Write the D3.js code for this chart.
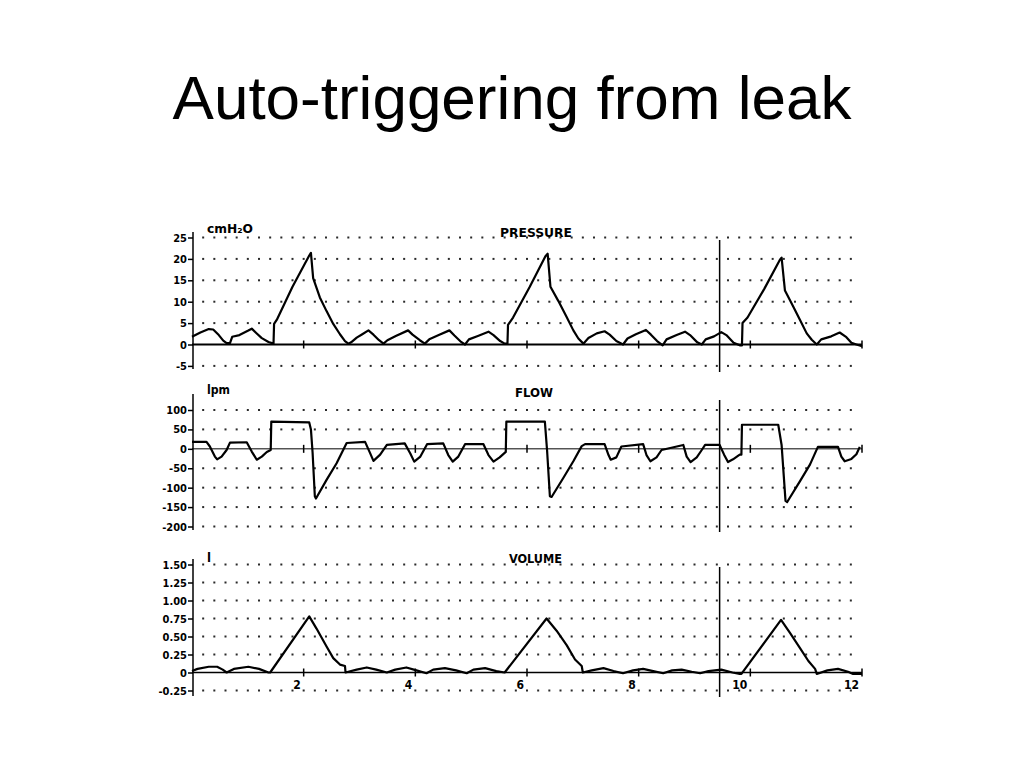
<!DOCTYPE html>
<html><head><meta charset="utf-8">
<script src="https://cdn.jsdelivr.net/npm/d3@7"></script>
<style>
html,body{margin:0;padding:0;background:#fff;}
svg{display:block;}
</style></head><body>
<svg id="chart" width="1024" height="768"></svg>
<script>
const chartTitle = "Auto-triggering from leak";
const timeTicks = [2, 4, 6, 8, 10, 12];
const timeTickLabels = ["2", "4", "6", "8", "10", "12"];
const pressureTicks = [25, 20, 15, 10, 5, 0, -5];
const pressureTickLabels = ["25", "20", "15", "10", "5", "0", "-5"];
const flowTicks = [100, 50, 0, -50, -100, -150, -200];
const flowTickLabels = ["100", "50", "0", "-50", "-100", "-150", "-200"];
const volumeTicks = [1.5, 1.25, 1, 0.75, 0.5, 0.25, 0, -0.25];
const volumeTickLabels = ["1.50", "1.25", "1.00", "0.75", "0.50", "0.25", "0", "-0.25"];
const markerTime = 9.45;

// [time s, pressure cmH2O]
const pressureData = [[0,1.8],[0.15,2.8],[0.3,3.6],[0.38,3.5],[0.48,2.2],[0.56,0.9],[0.62,0.3],[0.68,0.3],[0.72,1.8],[0.85,2.2],[1.0,3.2],[1.07,3.7],[1.15,2.7],[1.25,1.5],[1.37,0.6],[1.46,0.2],[1.47,4.8],[1.52,5.8],[1.8,13.5],[2.1,20.8],[2.13,21.4],[2.17,15.5],[2.29,11],[2.41,7.8],[2.53,4.8],[2.65,2.4],[2.74,0.8],[2.8,0.2],[2.85,0.5],[2.95,1.6],[3.05,2.4],[3.16,3.3],[3.25,2.3],[3.35,1.0],[3.43,0.2],[3.5,1.0],[3.65,2.0],[3.87,3.3],[3.95,2.3],[4.08,1.0],[4.17,0.2],[4.25,1.2],[4.42,2.2],[4.61,3.3],[4.7,2.1],[4.82,0.6],[4.89,0],[4.96,1.2],[5.12,2.0],[5.31,3.0],[5.4,2.2],[5.52,0.8],[5.6,0.2],[5.65,0.2],[5.66,4.6],[5.75,6.3],[6.05,13.5],[6.33,20.6],[6.37,21.2],[6.42,13.5],[6.56,10.2],[6.71,6.4],[6.83,3.3],[6.92,1.4],[7.01,0.2],[7.1,1.5],[7.25,2.6],[7.39,3.1],[7.48,2.3],[7.6,0.8],[7.72,0],[7.8,1.4],[7.95,2.4],[8.13,3.4],[8.22,2.3],[8.33,0.8],[8.43,-0.2],[8.5,1.2],[8.68,2.2],[8.83,3.0],[8.92,2.2],[9.05,0.5],[9.13,0],[9.2,1.2],[9.35,1.9],[9.48,2.9],[9.57,2.2],[9.7,0.4],[9.81,-0.2],[9.85,-0.2],[9.86,5.0],[9.95,6.3],[10.25,13],[10.53,19.8],[10.56,20.3],[10.62,12.6],[10.77,8.8],[10.89,5.7],[11.01,2.6],[11.1,1.1],[11.19,0],[11.27,1.2],[11.45,1.9],[11.6,2.8],[11.72,1.7],[11.81,0.4],[11.9,0],[12,-0.4]];

// [time s, flow lpm]
const flowData = [[0,18],[0.26,18],[0.32,6],[0.41,-20],[0.45,-27],[0.53,-20],[0.62,-3],[0.68,16],[0.98,17],[1.07,-7],[1.16,-28],[1.25,-20],[1.34,-8],[1.41,-3],[1.42,70],[2.1,68],[2.13,50],[2.16,-10],[2.2,-122],[2.22,-128],[2.41,-80],[2.59,-37],[2.77,15],[3.1,18],[3.19,-11],[3.25,-31],[3.37,-15],[3.49,10],[3.81,14],[3.91,-12],[3.98,-33],[4.09,-20],[4.21,12],[4.5,14],[4.59,-16],[4.67,-33],[4.77,-20],[4.89,12],[5.22,12],[5.31,-16],[5.4,-33],[5.51,-22],[5.62,-8],[5.63,70],[6.32,70],[6.36,-5],[6.41,-122],[6.44,-124],[6.65,-75],[6.83,-32],[6.98,7],[7.04,12],[7.39,12],[7.46,-16],[7.5,-28],[7.6,-22],[7.69,6],[8.08,12],[8.14,-16],[8.21,-32],[8.32,-22],[8.41,-3],[8.8,10],[8.86,-20],[8.93,-34],[9.04,-22],[9.13,-3],[9.19,10],[9.45,10],[9.53,-15],[9.6,-34],[9.69,-27],[9.81,-15],[9.84,-15],[9.85,62],[10.5,62],[10.56,10],[10.63,-134],[10.66,-137],[10.89,-83],[11.07,-40],[11.21,5],[11.57,5],[11.63,-20],[11.69,-32],[11.81,-26],[11.9,-14],[11.96,5]];

// [time s, volume l]
const volumeData = [[0,0.02],[0.1,0.05],[0.3,0.08],[0.45,0.08],[0.55,0.04],[0.62,0],[0.75,0.05],[1.01,0.08],[1.2,0.05],[1.37,0],[1.4,0],[2.1,0.78],[2.23,0.61],[2.41,0.36],[2.53,0.2],[2.65,0.11],[2.74,0.09],[2.75,0],[2.95,0.04],[3.13,0.07],[3.3,0.04],[3.49,0],[3.64,0.04],[3.84,0.07],[4.02,0.03],[4.2,-0.01],[4.32,0.04],[4.53,0.06],[4.73,0.03],[4.92,-0.01],[5.04,0.04],[5.25,0.06],[5.45,0.02],[5.6,0],[6.35,0.75],[6.53,0.58],[6.71,0.38],[6.86,0.18],[6.98,0.09],[7.0,0],[7.16,0.03],[7.37,0.06],[7.55,0.02],[7.72,-0.01],[7.9,0.03],[8.08,0.05],[8.26,0.02],[8.44,-0.01],[8.6,0.03],[8.77,0.04],[8.95,0.01],[9.1,-0.01],[9.25,0.02],[9.48,0.04],[9.68,0],[9.81,-0.02],[9.84,-0.02],[10.55,0.73],[10.71,0.55],[10.89,0.34],[11.04,0.16],[11.16,0.05],[11.19,-0.02],[11.38,0.03],[11.57,0.05],[11.75,0.01],[11.84,-0.02],[12,-0.02]];

const svg = d3.select("#chart");
const monoFont = "'DejaVu Sans Condensed', 'DejaVu Sans', sans-serif";

svg.append("text")
  .attr("x", 512).attr("y", 119)
  .attr("text-anchor", "middle")
  .style("font-family", "'Liberation Sans', Arial, sans-serif")
  .style("font-size", "62px")
  .attr("fill", "#000")
  .text(chartTitle);

const x = d3.scaleLinear().domain([0, 12]).range([192, 862]);
const dotTimes = d3.range(1, 60).map(i => i * 0.2);

const panels = [
  {name: "PRESSURE", unit: "cmH\u2082O", data: pressureData, ticks: pressureTicks, labels: pressureTickLabels,
   domain: [0, 25], range: [344.5, 237.5], axisTop: 232, axisBottom: 369, nameX: 500, nameY: 237, nameW: 72,
   unitY: 233, unitW: 46, zeroW: 2, markerTop: 240, markerBottom: 372, showX: false},
  {name: "FLOW", unit: "lpm", data: flowData, ticks: flowTicks, labels: flowTickLabels,
   domain: [-200, 100], range: [526.5, 410], axisTop: 394, axisBottom: 530, nameX: 515, nameY: 397, nameW: 38,
   unitY: 394, unitW: 23, zeroW: 1, markerTop: 400, markerBottom: 532, showX: false},
  {name: "VOLUME", unit: "l", data: volumeData, ticks: volumeTicks, labels: volumeTickLabels,
   domain: [-0.25, 1.5], range: [690.5, 564.5], axisTop: 559, axisBottom: 696, nameX: 509, nameY: 563, nameW: 53,
   unitY: 562, unitW: null, zeroW: 1.5, markerTop: 567, markerBottom: 697, showX: true}
];

panels.forEach(p => {
  const y = d3.scaleLinear().domain(p.domain).range(p.range);
  const g = svg.append("g");

  // dotted grid rows
  p.ticks.filter(v => v !== 0).forEach(v => {
    g.selectAll(null).data(dotTimes).join("rect")
      .attr("x", d => x(d) - 1).attr("y", y(v) - 1)
      .attr("width", 2).attr("height", 2)
      .attr("fill", "#2a2a2a");
  });

  // y axis
  const axis = d3.axisLeft(y).tickValues(p.ticks).tickFormat((d, i) => p.labels[i])
    .tickSize(5).tickSizeOuter(0).tickPadding(1);
  const ag = g.append("g").attr("transform", "translate(193,0)").call(axis);
  ag.select(".domain").remove();
  ag.selectAll(".tick line").attr("stroke", "#000").attr("stroke-width", 1.5);
  ag.selectAll(".tick text")
    .style("font-family", monoFont).style("font-size", "11px").style("font-weight", "bold")
    .attr("fill", "#000");
  g.append("line").attr("x1", 193).attr("x2", 193)
    .attr("y1", p.axisTop).attr("y2", p.axisBottom)
    .attr("stroke", "#000").attr("stroke-width", 1.5);

  // zero baseline
  g.append("line").attr("x1", x(0)).attr("x2", x(12))
    .attr("y1", y(0)).attr("y2", y(0))
    .attr("stroke", "#000").attr("stroke-width", p.zeroW);
  // time ticks on baseline
  g.selectAll(null).data(timeTicks).join("line")
    .attr("x1", d => x(d)).attr("x2", d => x(d))
    .attr("y1", y(0) - 4).attr("y2", y(0) + 4)
    .attr("stroke", "#000").attr("stroke-width", 1.5);

  if (p.showX) {
    g.selectAll(null).data(timeTicks).join("text")
      .attr("x", d => x(d) - 3).attr("y", y(0) + 16)
      .attr("text-anchor", "end")
      .style("font-family", monoFont).style("font-size", "12px").style("font-weight", "bold")
      .text((d, i) => timeTickLabels[i]);
  }

  // marker line
  g.append("line").attr("x1", x(markerTime)).attr("x2", x(markerTime))
    .attr("y1", p.markerTop).attr("y2", p.markerBottom)
    .attr("stroke", "#000").attr("stroke-width", 1.5);

  // titles
  const nt = g.append("text").attr("x", p.nameX).attr("y", p.nameY)
    .style("font-family", monoFont).style("font-size", "13px").style("font-weight", "bold")
    .attr("textLength", p.nameW).attr("lengthAdjust", "spacingAndGlyphs")
    .text(p.name);
  const ut = g.append("text").attr("x", 207).attr("y", p.unitY)
    .style("font-family", monoFont).style("font-size", "13px").style("font-weight", "bold")
    .text(p.unit);
  if (p.unitW) ut.attr("textLength", p.unitW).attr("lengthAdjust", "spacingAndGlyphs");

  // trace
  const line = d3.line().x(d => x(d[0])).y(d => y(d[1]));
  g.append("path").datum(p.data)
    .attr("d", line)
    .attr("fill", "none").attr("stroke", "#000")
    .attr("stroke-width", 2.2).attr("stroke-linejoin", "round");
});
</script>
</body></html>
